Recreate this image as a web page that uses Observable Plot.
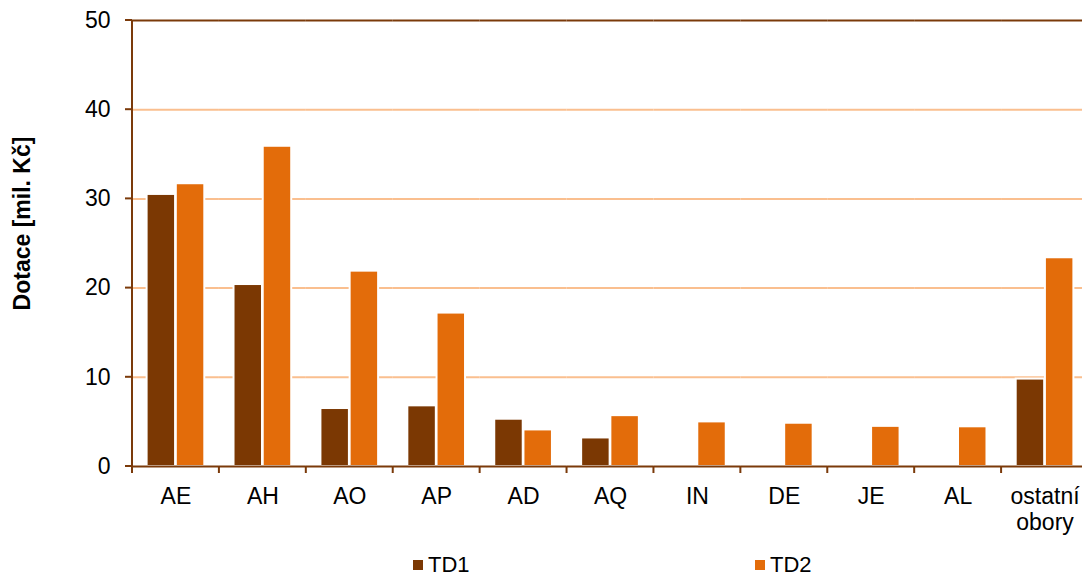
<!DOCTYPE html>
<html><head><meta charset="utf-8">
<script src="https://cdn.jsdelivr.net/npm/d3@7"></script>
<script src="https://cdn.jsdelivr.net/npm/@observablehq/plot@0.6"></script>
<style>
body{margin:0;background:#fff;font-family:"Liberation Sans",Arial,sans-serif;}
#wrap{position:relative;width:1082px;height:576px;overflow:hidden;background:#fff}
#legend{position:absolute;left:413px;top:554px;display:flex;}
.item{display:flex;align-items:center;width:342px;font-size:22px;color:#000;line-height:21px;height:21px}
.sw{width:10px;height:10px;margin-right:5px;display:inline-block}
g[aria-label="y-axis label"] text{font-weight:bold}
</style></head><body><div id="wrap"><div id="chart"></div><div id="legend"></div></div>
<script>
const categories = ["AE","AH","AO","AP","AD","AQ","IN","DE","JE","AL","ostatní obory"];
const series = ["TD1","TD2"];
const td1 = [30.5,20.4,6.5,6.8,5.3,3.2,0,0,0,0,9.8];
const td2 = [31.7,35.9,21.9,17.2,4.1,5.7,5.0,4.85,4.5,4.45,23.4];
const colors = ["#7b3803","#e36c0a"];
const yTicks = [0,10,20,30,40,50];
const gridTicks = [10,20,30,40];
const frameTicks = [0,50];
const yLabel = "Dotace [mil. Kč]";

const axisColor = "#7b3a0a";
const rows = categories.flatMap((c,i)=>[{cat:c,s:series[0],v:td1[i]},{cat:c,s:series[1],v:td2[i]}]);

const plot = Plot.plot({
  width:1082, height:545, marginLeft:132, marginRight:-6, marginTop:20, marginBottom:79,
  style:{fontFamily:"Liberation Sans, Arial, sans-serif", fontSize:"23px", color:"#000", background:"#fff"},
  fx:{domain:categories, padding:0, round:false, label:null},
  x:{domain:series, paddingInner:0.025, paddingOuter:0.5, round:false, axis:null},
  y:{domain:[0,50], label:yLabel},
  color:{domain:series, range:colors},
  marks:[
    Plot.ruleY(gridTicks, {stroke:"#fabf8f", strokeWidth:2}),
    Plot.barY(rows, {fx:"cat", x:"s", y:"v", fill:"s", stroke:"white", strokeWidth:2}),
    Plot.ruleY(frameTicks, {stroke:axisColor, strokeWidth:2}),
    Plot.axisY(yTicks, {tickSize:0, tickPadding:22, fontSize:23, fill:"#000",
      label:yLabel, labelAnchor:"center", labelArrow:"none", labelOffset:119}),
    Plot.axisFx({anchor:"bottom", tickSize:0, tickPadding:20, lineHeight:1.1, fontSize:23, label:null,
      tickFormat:d=>d.replace(" ","\n")})
  ]
});
document.getElementById("chart").appendChild(plot);

const fx = plot.scale("fx"), ys = plot.scale("y");
const y0 = ys.apply(0);
const xLeft = fx.apply(categories[0]);
const svg = d3.select(plot);

// y axis line and outward ticks from the y scale
const gy = svg.append("g").attr("aria-label","y-axis-line").attr("stroke",axisColor).attr("stroke-width",2);
gy.append("line").attr("x1",xLeft).attr("x2",xLeft).attr("y1",ys.apply(50)).attr("y2",y0+7);
gy.selectAll("line.t").data(yTicks).join("line").attr("class","t")
  .attr("x1",xLeft-7).attr("x2",xLeft).attr("y1",d=>ys.apply(d)).attr("y2",d=>ys.apply(d));

// category boundary ticks from the fx scale
const edges = categories.map(c=>fx.apply(c));
edges.push(fx.apply(categories[categories.length-1]) + fx.bandwidth);
svg.append("g").attr("aria-label","fx-boundary-ticks")
  .selectAll("line").data(edges).join("line")
  .attr("x1",d=>d).attr("x2",d=>d).attr("y1",y0).attr("y2",y0+7)
  .attr("stroke",axisColor).attr("stroke-width",2);

const lab = svg.select('g[aria-label="y-axis label"]');
lab.attr("transform",(lab.attr("transform")||"")+" translate(0,-20)");

const legend = d3.select("#legend");
series.forEach((s,i)=>{
  const it = legend.append("div").attr("class","item");
  it.append("span").attr("class","sw").style("background",colors[i]);
  it.append("span").text(s);
});
</script></body></html>
